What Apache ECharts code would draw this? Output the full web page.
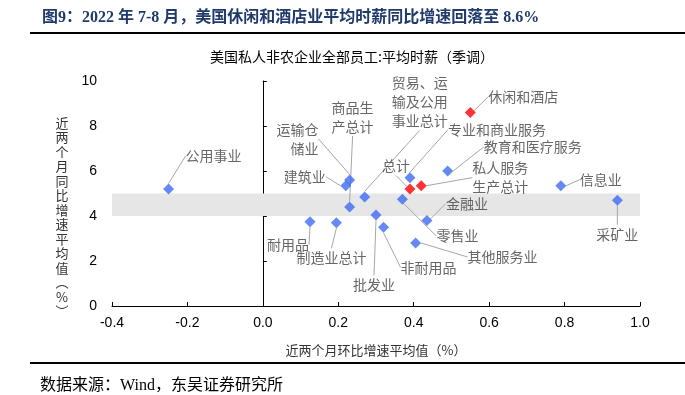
<!DOCTYPE html>
<html>
<head>
<meta charset="utf-8">
<script src="https://cdn.jsdelivr.net/npm/echarts@6/dist/echarts.min.js"></script>
<style>
html,body{margin:0;padding:0;background:#fff;}
#chart{width:685px;height:395px;}
</style>
</head>
<body>
<div id="chart"></div>
<script>
// ---- data ----
const names = ['公用事业','建筑业','运输仓\n储业','商品生\n产总计','贸易、运\n输及公用\n事业总计','批发业','耐用品','制造业总计','非耐用品','专业和商业服务','总计','私人服务\n生产总计','教育和医疗服务','休闲和酒店','信息业','采矿业','零售业','金融业','其他服务业'];
const momAvg = [-0.25, 0.22, 0.23, 0.23, 0.27, 0.30, 0.125, 0.195, 0.32, 0.39, 0.39, 0.42, 0.49, 0.55, 0.79, 0.94, 0.37, 0.435, 0.405];
const yoyAvg = [5.2, 5.35, 5.6, 4.4, 4.85, 4.05, 3.75, 3.7, 3.5, 5.7, 5.2, 5.35, 6.0, 8.6, 5.35, 4.7, 4.75, 3.8, 2.8];
const highlighted = [false,false,false,false,false,false,false,false,false,false,true,true,false,true,false,false,false,false,false];
const xTicks = [-0.4, -0.2, 0.0, 0.2, 0.4, 0.6, 0.8, 1.0];
const yTicks = [0, 2, 4, 6, 8, 10];
const band = [4, 5];

// ---- label placement (pixel offsets from marker centre) ----
const labelOffsets = [
  [45,-33,'center'],[-41,-9,'center'],[-31,-41,'right'],[-18,-90,'left'],[27,-95,'left'],
  [-2,70,'center'],[-22,23,'center'],[-5,35,'center'],[45,40,'center'],[87,-48,'center'],
  [-14,-23,'center'],[51,-8,'left'],[85,-24,'center'],[53,-16,'center'],[40,-6,'center'],
  [0,34,'center'],[55,37,'center'],[40,-17,'center'],[87,14,'center']
];

const BLUE = '#3D6CF2', RED = '#FF0000';
const seriesData = names.map((n, i) => ({
  name: n,
  value: [momAvg[i], yoyAvg[i]],
  itemStyle: { color: highlighted[i] ? RED : BLUE }
}));

const chart = echarts.init(document.getElementById('chart'));
const CJK = '"Noto Sans CJK SC", "Noto Sans", sans-serif';
const yName = '近两个月同比增速平均值︵%︶'.split('').join('\n');

chart.setOption({
  animation: false,
  backgroundColor: '#fff',
  grid: { left: 112, right: 45, top: 81, bottom: 89 },
  xAxis: {
    type: 'value', min: xTicks[0], max: xTicks[xTicks.length-1], interval: 0.2,
    splitLine: { show: false },
    axisLine: { onZero: false, lineStyle: { color: '#000', width: 1 } },
    axisTick: { inside: true, length: 4, lineStyle: { color: '#000' } },
    axisLabel: { color: '#000', fontSize: 14, margin: 10, fontFamily: '"Liberation Sans", Arial, sans-serif',
      formatter: v => (Math.abs(v) < 1e-9 ? 0 : v).toFixed(1) },
    name: '近两个月环比增速平均值（%）', nameLocation: 'middle', nameGap: 38,
    nameTextStyle: { color: '#333', fontSize: 13, fontFamily: CJK }
  },
  yAxis: {
    type: 'value', min: yTicks[0], max: yTicks[yTicks.length-1], interval: 2,
    splitLine: { show: false },
    axisLine: { onZero: true, lineStyle: { color: '#000', width: 1 } },
    axisTick: { inside: true, length: 4, lineStyle: { color: '#000' } },
    axisLabel: { color: '#000', fontSize: 14, margin: 15, fontFamily: '"Liberation Sans", Arial, sans-serif' }
  },
  graphic: [
    { type: 'text', x: 42, y: 18, style: { text: '图9：2022 年 7-8 月，美国休闲和酒店业平均时薪同比增速回落至 8.6%',
      font: 'bold 16px "Liberation Serif", "Noto Sans CJK SC", serif', fill: '#1F3A6B', textVerticalAlign: 'middle' } },
    { type: 'line', shape: { x1: 30, y1: 33, x2: 685, y2: 33 }, style: { stroke: '#000', lineWidth: 2 } },
    { type: 'text', x: 352, y: 57, style: { text: '美国私人非农企业全部员工:平均时薪（季调）',
      font: '14px ' + CJK, fill: '#000', textAlign: 'center', textVerticalAlign: 'middle' } },
    { type: 'text', x: 62, y: 217, style: { text: yName, font: '13px ' + CJK, lineHeight: 14.5,
      fill: '#333', textAlign: 'center', textVerticalAlign: 'middle' } },
    { type: 'line', shape: { x1: 30, y1: 363, x2: 685, y2: 363 }, style: { stroke: '#000', lineWidth: 2 } },
    { type: 'text', x: 40, y: 386, style: { text: '数据来源：Wind，东吴证券研究所',
      font: '16px "Liberation Serif", "Noto Sans CJK SC", serif', fill: '#000', textVerticalAlign: 'middle' } }
  ],
  series: [{
    type: 'scatter',
    symbol: 'diamond',
    symbolSize: 11,
    data: seriesData,
    label: {
      show: true, formatter: p => p.name, color: '#404040', fontSize: 14,
      fontFamily: CJK, lineHeight: 19
    },
    labelLine: { show: true, lineStyle: { color: '#A6A6A6', width: 1 } },
    labelLayout: function (params) {
      const o = labelOffsets[params.dataIndex];
      const cx = params.rect.x + params.rect.width / 2;
      const cy = params.rect.y + params.rect.height / 2;
      return { x: cx + o[0], y: cy + o[1], align: o[2], verticalAlign: 'middle' };
    },
    markArea: {
      silent: true,
      itemStyle: { color: '#E6E6E6' },
      data: [[{ coord: [xTicks[0], band[0]] }, { coord: [xTicks[xTicks.length-1], band[1]] }]]
    },
    z: 3
  }]
});
</script>
</body>
</html>
